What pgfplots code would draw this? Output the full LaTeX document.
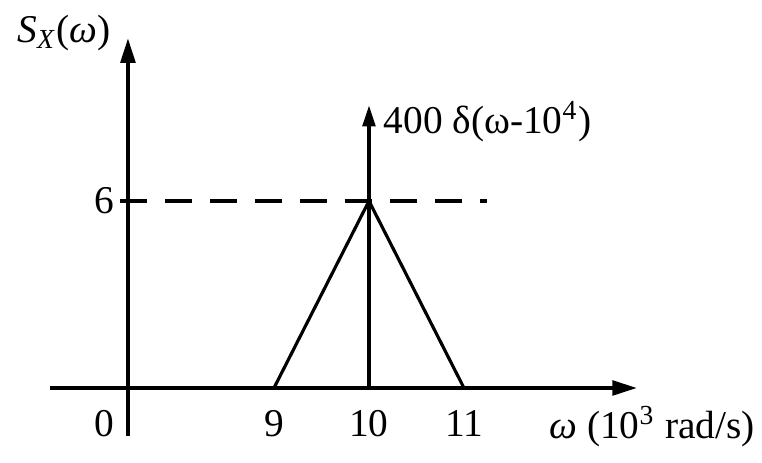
\documentclass[border=0pt]{standalone}
\usepackage{fontspec}
\setmainfont{Liberation Serif}
\usepackage{pgfplots}
\pgfplotsset{compat=1.18}
\usetikzlibrary{arrows.meta}

% triangular PSD with a delta at 10^4 rad/s
\pgfplotstableread{
w    S
9    0
10   6
11   0
}\tri

\tikzset{lbl/.style={font=\fontsize{11.2}{13}\selectfont, inner sep=1pt}}

\begin{document}
\begin{tikzpicture}
\begin{axis}[
    width=7.62cm, height=4.63cm, scale only axis,
    xmin=6.116, xmax=14.137, ymin=-2.406, ymax=12.45,
    hide axis, clip=false,
    every axis plot/.append style={black, line width=1pt},
]
\path (rel axis cs:0,0) rectangle (rel axis cs:1,1);
% axes
\addplot[-{Triangle[length=7pt,width=4.2pt]}] coordinates {(6.64,0) (12.82,0)};
\addplot[-{Triangle[length=7pt,width=4.2pt]}] coordinates {(7.463,-1.54) (7.463,11.22)};
% level 6, dashed
\addplot[dash pattern=on 7.6pt off 5.2pt] coordinates {(7.379,6) (11.242,6)};
% triangle
\addplot[line width=0.9pt] table[x=w, y=S] {\tri};
% delta
\addplot[-{Triangle[length=6pt,width=3.6pt]}] coordinates {(10,0) (10,9.07)};

% labels
\node[lbl] at (axis cs:6.79,11.39) {\textit{S}\textsubscript{\textit{X}}(\textit{ω})};
\node[lbl, anchor=west] at (axis cs:10.11,8.55) {400 δ(ω-10\textsuperscript{4})};
\node[lbl, anchor=east] at (axis cs:7.36,6) {6};
\node[lbl] at (axis cs:7.21,-1.15) {0};
\node[lbl] at (axis cs:9,-1.15) {9};
\node[lbl] at (axis cs:10,-1.15) {10};
\node[lbl] at (axis cs:11,-1.15) {11};
\node[lbl] at (axis cs:12.98,-1.25) {\textit{ω} (10\textsuperscript{3} rad/s)};
\end{axis}
\end{tikzpicture}
\end{document}
